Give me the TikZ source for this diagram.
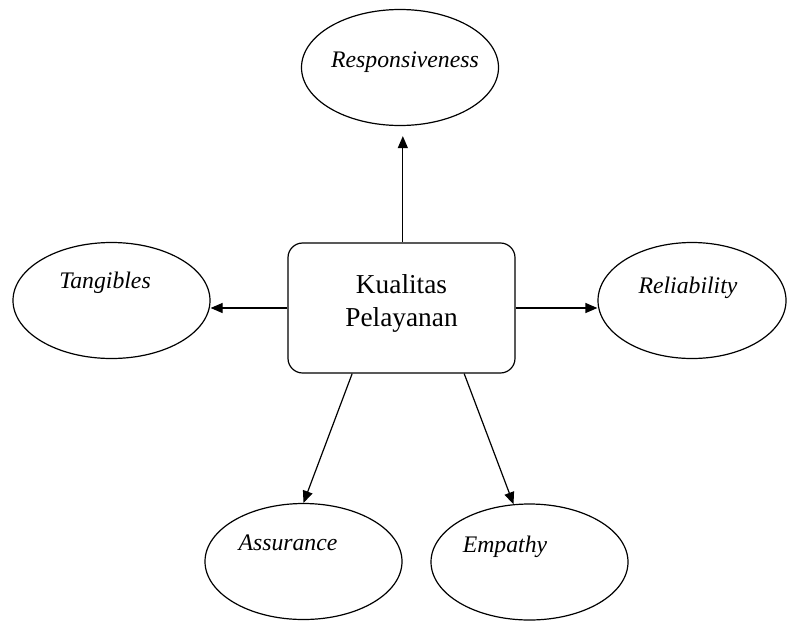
\documentclass[tikz,border=0pt]{standalone}
\usepackage{fontspec}
\setmainfont{Liberation Serif}
\usetikzlibrary{arrows.meta,shapes.geometric}
\begin{document}
\begin{tikzpicture}[x=0.75pt,y=-0.75pt,
  oval/.style={draw,ellipse,line width=0.9pt,minimum width=147.75pt,minimum height=87pt,inner sep=0pt},
  lbl/.style={font=\fontsize{17.8pt}{21pt}\selectfont\itshape,inner sep=0pt},
  mainbox/.style={draw,rounded corners=11pt,line width=0.9pt,minimum width=170.25pt,minimum height=97.5pt,inner sep=0pt},
  arr/.style={line width=0.9pt,-{Triangle[length=9pt,width=7.5pt]}}]
\useasboundingbox (0,0) rectangle (787,621);
\node[mainbox] (box) at (401.5,308) {};
\node[align=center,inner sep=0pt,font=\fontsize{20.5pt}{24.75pt}\selectfont] (boxt) at (401.5,303) {Kualitas\\Pelayanan};
\node[oval] (resp) at (400,67.5) {};
\node[oval] (tang) at (111.5,300.5) {};
\node[oval,minimum width=141pt] (reli) at (692,300.5) {};
\node[oval] (assur) at (303.5,561.5) {};
\node[oval] (empa) at (529.5,562) {};
\node[lbl] (respt) at (405,62) {Responsiveness};
\node[lbl] (tangt) at (105,283) {Tangibles};
\node[lbl] (relit) at (688,288) {Reliability};
\node[lbl] (assurt) at (288,543) {Assurance};
\node[lbl] (empat) at (505,547) {Empathy};
\draw[arr,shorten >=7.5pt] ([xshift=1pt]box.north) -- ([xshift=1pt]box.north |- resp.south);
\draw[arr] (box.west) -- (box.west -| tang.east);
\draw[arr] (box.east) -- (box.east -| reli.west);
\draw[arr] ([xshift=-37pt]box.south) -- (assur.north);
\draw[arr] ([xshift=47pt]box.south) -- ([xshift=-12pt,yshift=-0.6pt]empa.north);
\end{tikzpicture}
\end{document}
